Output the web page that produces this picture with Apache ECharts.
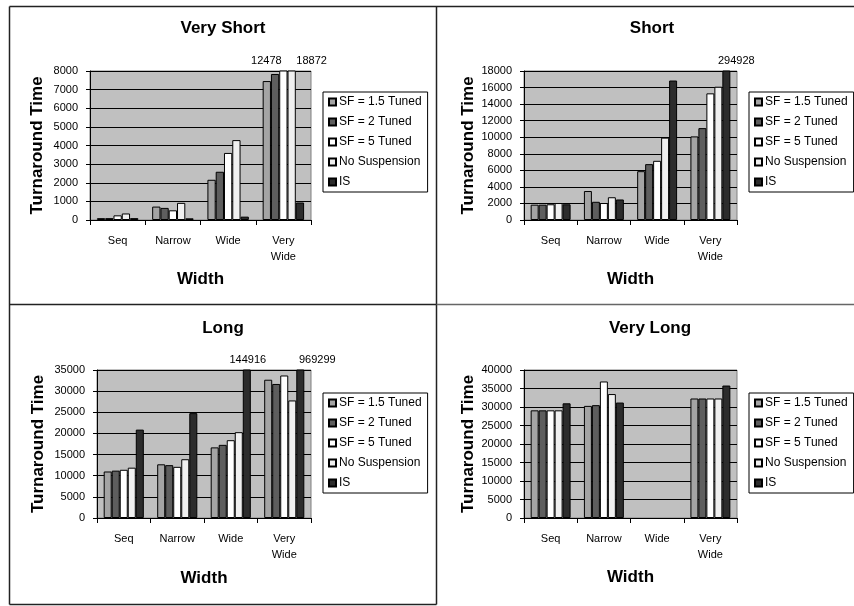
<!DOCTYPE html>
<html>
<head>
<meta charset="utf-8">
<script src="https://cdn.jsdelivr.net/npm/echarts@6/dist/echarts.min.js"></script>
<style>
  html, body { margin: 0; padding: 0; background: #fff; }
  #chart { width: 854px; height: 606px; }
</style>
</head>
<body>
<div id="chart"></div>
<script>
// Turnaround time by job width, one panel per job length class
const categories = ['Seq', 'Narrow', 'Wide', 'Very\nWide'];
const seriesNames = ['SF = 1.5 Tuned', 'SF = 2 Tuned', 'SF = 5 Tuned', 'No Suspension', 'IS'];
const panelTitles = ['Very Short', 'Short', 'Long', 'Very Long'];

// rows follow seriesNames, columns follow categories
const veryShortValues = [
  [100, 720, 2160, 7460],
  [100, 650, 2590, 7840],
  [250, 520, 3600, 12478],
  [350, 920, 4290, 18872],
  [100, 90, 180, 940]
];
const shortValues = [
  [1850, 3500, 5900, 10100],
  [1850, 2200, 6750, 11100],
  [1900, 2050, 7150, 15300],
  [2050, 2750, 9950, 16100],
  [1900, 2480, 16850, 294928]
];
const longValues = [
  [11000, 12700, 16700, 32700],
  [11200, 12500, 17300, 31700],
  [11400, 12100, 18400, 33700],
  [11900, 13900, 20300, 27800],
  [20900, 24800, 144916, 969299]
];
const veryLongValues = [
  [29100, 30300, null, 32300],
  [29100, 30500, null, 32300],
  [29100, 36900, null, 32300],
  [29100, 33500, null, 32300],
  [31000, 31200, null, 35800]
];

// y-axis ranges per panel
const axisMax = [8000, 18000, 35000, 40000];
const axisStep = [1000, 2000, 5000, 5000];

const panelValues = [veryShortValues, shortValues, longValues, veryLongValues];

const FONT = "'Liberation Sans', Arial, sans-serif";
const barColors = ['#a4a4a4', '#5e5e5e', '#ffffff', '#f0f0f0', '#2c2c2c'];

// layout of each panel
const grids = [
  { left: 90, top: 71, width: 221, height: 149 },
  { left: 524, top: 71, width: 213, height: 149 },
  { left: 97, top: 370, width: 214, height: 148 },
  { left: 524, top: 370, width: 213, height: 148 }
];
const titleCenters = [[223, 20], [652, 20], [223, 320], [650, 320]];
const legendPos = [[323, 92], [749, 92], [323, 393], [749, 393]];
const yNameGap = [44, 47, 50, 47];
const xNameGap = [51, 51, 52, 51];

// horizontal nudges for the labels of bars that run past the axis top
function labelOffsetFor(p, s, c) {
  if (p === 0 && s === 2) return -17;
  if (p === 0 && s === 3) return 20;
  if (p === 1 && s === 4) return 10;
  if (p === 2 && s === 4) return c === 3 ? 17 : 1;
  return 0;
}

const option = {
  animation: false,
  backgroundColor: '#ffffff',
  textStyle: { fontFamily: FONT },
  title: [],
  legend: [],
  grid: [],
  xAxis: [],
  yAxis: [],
  series: [],
  graphic: []
};

panelTitles.forEach((t, p) => {
  option.title.push({
    text: t,
    left: titleCenters[p][0],
    top: titleCenters[p][1],
    textAlign: 'center',
    padding: 0,
    textStyle: { fontFamily: FONT, fontSize: 17, fontWeight: 'bold', color: '#000' }
  });
  option.grid.push(Object.assign({
    show: true,
    backgroundColor: '#c0c0c0',
    borderColor: '#808080',
    borderWidth: 1,
    containLabel: false
  }, grids[p]));
  option.legend.push({
    data: seriesNames,
    orient: 'vertical',
    left: legendPos[p][0],
    top: legendPos[p][1],
    icon: 'rect',
    itemWidth: 7,
    itemHeight: 7,
    itemGap: 6,
    selectedMode: false,
    padding: [3, 6, 3, 5],
    borderColor: '#000',
    borderWidth: 1,
    backgroundColor: '#fff',
    textStyle: { fontFamily: FONT, fontSize: 12, color: '#000', lineHeight: 14, padding: [0, 0, 0, -2] }
  });
  option.xAxis.push({
    type: 'category',
    gridIndex: p,
    data: categories,
    name: 'Width',
    nameLocation: 'middle',
    nameGap: xNameGap[p],
    nameTextStyle: { fontFamily: FONT, fontSize: 17, fontWeight: 'bold', color: '#000' },
    axisLine: { lineStyle: { color: '#000', width: 1 } },
    axisTick: { show: true, length: 5, lineStyle: { color: '#000' } },
    axisLabel: { interval: 0, fontFamily: FONT, fontSize: 11, color: '#000', margin: 13, lineHeight: 16 },
    splitLine: { show: false }
  });
  option.yAxis.push({
    type: 'value',
    gridIndex: p,
    min: 0,
    max: axisMax[p],
    interval: axisStep[p],
    name: 'Turnaround Time',
    nameLocation: 'middle',
    nameGap: yNameGap[p],
    nameTextStyle: { fontFamily: FONT, fontSize: 17, fontWeight: 'bold', color: '#000' },
    axisLine: { show: true, lineStyle: { color: '#000', width: 1 } },
    axisTick: { show: true, length: 4, lineStyle: { color: '#000' } },
    axisLabel: {
      fontFamily: FONT, fontSize: 11, color: '#000', margin: 12,
      formatter: v => String(v)
    },
    splitLine: { show: true, lineStyle: { color: '#000', width: 1 } }
  });

  panelValues[p].forEach((row, s) => {
    option.series.push({
      type: 'bar',
      name: seriesNames[s],
      xAxisIndex: p,
      yAxisIndex: p,
      clip: true,
      barGap: '0%',
      barCategoryGap: '25%',
      itemStyle: { color: barColors[s], borderColor: '#000', borderWidth: 1 },
      data: row.map((v, c) => {
        if (v !== null && v > axisMax[p]) {
          return {
            value: v,
            label: {
              show: true,
              position: 'top',
              distance: 4,
              offset: [labelOffsetFor(p, s, c), 0],
              formatter: '{c}',
              fontFamily: FONT,
              fontSize: 11,
              color: '#000'
            }
          };
        }
        return v;
      })
    });
  });
});

// panel frames
const frameLines = [
  [9, 6, 854, 6, '#222'],
  [9, 6, 9, 604, '#222'],
  [436, 6, 436, 604, '#222'],
  [9, 304, 436, 304, '#222'],
  [436, 304, 854, 304, '#666'],
  [9, 604, 436, 604, '#222']
];
frameLines.forEach(l => {
  option.graphic.push({
    type: 'line',
    shape: { x1: l[0] + 0.5, y1: l[1] + 0.5, x2: l[2] + 0.5, y2: l[3] + 0.5 },
    style: { stroke: l[4], lineWidth: 1.5 },
    silent: true
  });
});

const chart = echarts.init(document.getElementById('chart'), null, { renderer: 'canvas' });
chart.setOption(option);
</script>
</body>
</html>
